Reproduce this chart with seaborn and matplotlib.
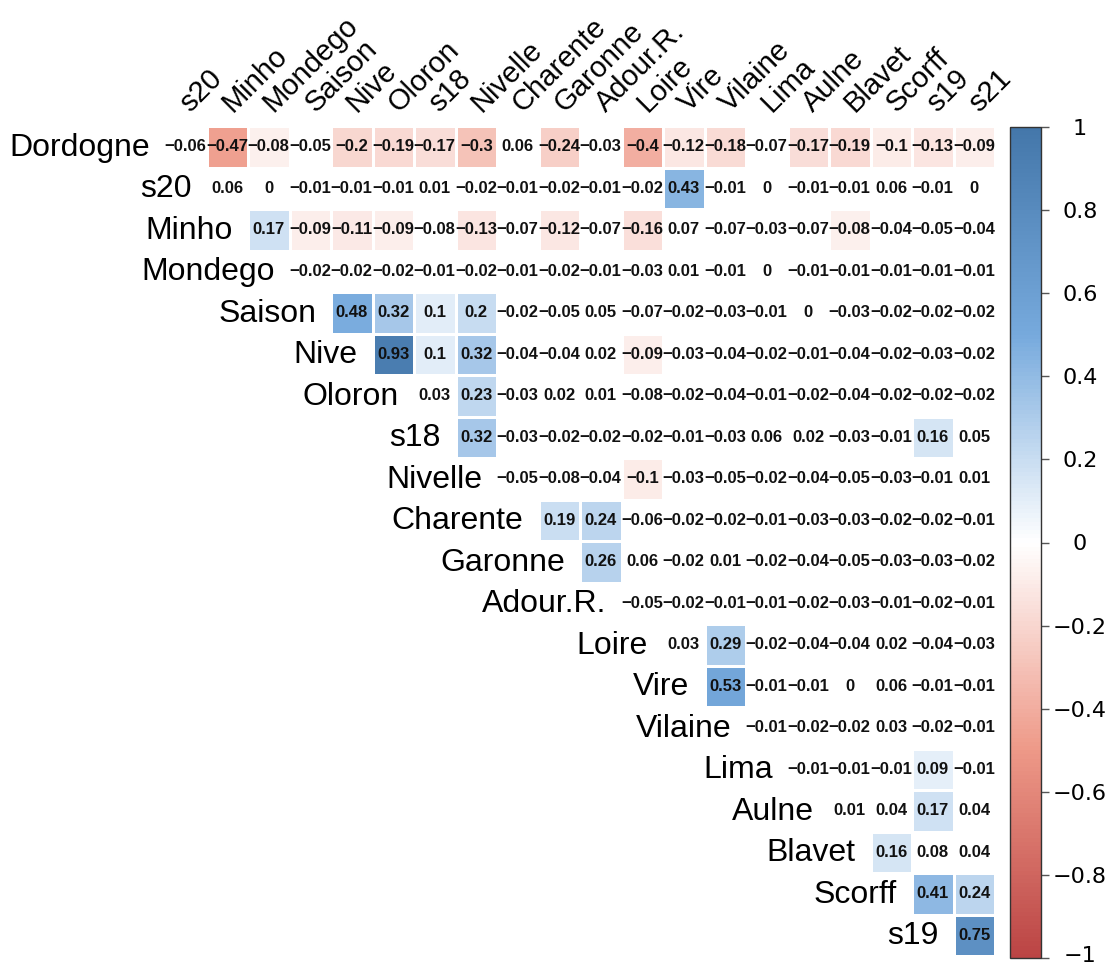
import numpy as np
import pandas as pd
import matplotlib
matplotlib.use("Agg")
import matplotlib.pyplot as plt
import matplotlib.transforms as mtransforms
import seaborn as sns
from matplotlib.colors import LinearSegmentedColormap

# ---------------- data ----------------
row_labels = ["Dordogne", "s20", "Minho", "Mondego", "Saison", "Nive", "Oloron", "s18",
              "Nivelle", "Charente", "Garonne", "Adour.R.", "Loire", "Vire", "Vilaine",
              "Lima", "Aulne", "Blavet", "Scorff", "s19"]
col_labels = ["s20", "Minho", "Mondego", "Saison", "Nive", "Oloron", "s18", "Nivelle",
              "Charente", "Garonne", "Adour.R.", "Loire", "Vire", "Vilaine", "Lima",
              "Aulne", "Blavet", "Scorff", "s19", "s21"]

# upper-triangle correlations, row i starts at column i
r_Dordogne = [-0.06, -0.47, -0.08, -0.05, -0.2, -0.19, -0.17, -0.3, 0.06, -0.24,
              -0.03, -0.4, -0.12, -0.18, -0.07, -0.17, -0.19, -0.1, -0.13, -0.09]
r_s20 = [0.06, 0, -0.01, -0.01, -0.01, 0.01, -0.02, -0.01, -0.02, -0.01,
         -0.02, 0.43, -0.01, 0, -0.01, -0.01, 0.06, -0.01, 0]
r_Minho = [0.17, -0.09, -0.11, -0.09, -0.08, -0.13, -0.07, -0.12, -0.07,
           -0.16, 0.07, -0.07, -0.03, -0.07, -0.08, -0.04, -0.05, -0.04]
r_Mondego = [-0.02, -0.02, -0.02, -0.01, -0.02, -0.01, -0.02, -0.01, -0.03,
             0.01, -0.01, 0, -0.01, -0.01, -0.01, -0.01, -0.01]
r_Saison = [0.48, 0.32, 0.1, 0.2, -0.02, -0.05, 0.05, -0.07, -0.02, -0.03,
            -0.01, 0, -0.03, -0.02, -0.02, -0.02]
r_Nive = [0.93, 0.1, 0.32, -0.04, -0.04, 0.02, -0.09, -0.03, -0.04, -0.02,
          -0.01, -0.04, -0.02, -0.03, -0.02]
r_Oloron = [0.03, 0.23, -0.03, 0.02, 0.01, -0.08, -0.02, -0.04, -0.01, -0.02,
            -0.04, -0.02, -0.02, -0.02]
r_s18 = [0.32, -0.03, -0.02, -0.02, -0.02, -0.01, -0.03, 0.06, 0.02, -0.03,
         -0.01, 0.16, 0.05]
r_Nivelle = [-0.05, -0.08, -0.04, -0.1, -0.03, -0.05, -0.02, -0.04, -0.05,
             -0.03, -0.01, 0.01]
r_Charente = [0.19, 0.24, -0.06, -0.02, -0.02, -0.01, -0.03, -0.03, -0.02, -0.02, -0.01]
r_Garonne = [0.26, 0.06, -0.02, 0.01, -0.02, -0.04, -0.05, -0.03, -0.03, -0.02]
r_Adour = [-0.05, -0.02, -0.01, -0.01, -0.02, -0.03, -0.01, -0.02, -0.01]
r_Loire = [0.03, 0.29, -0.02, -0.04, -0.04, 0.02, -0.04, -0.03]
r_Vire = [0.53, -0.01, -0.01, 0, 0.06, -0.01, -0.01]
r_Vilaine = [-0.01, -0.02, -0.02, 0.03, -0.02, -0.01]
r_Lima = [-0.01, -0.01, -0.01, 0.09, -0.01]
r_Aulne = [0.01, 0.04, 0.17, 0.04]
r_Blavet = [0.16, 0.08, 0.04]
r_Scorff = [0.41, 0.24]
r_s19 = [0.75]

rows = [r_Dordogne, r_s20, r_Minho, r_Mondego, r_Saison, r_Nive, r_Oloron, r_s18,
        r_Nivelle, r_Charente, r_Garonne, r_Adour, r_Loire, r_Vire, r_Vilaine,
        r_Lima, r_Aulne, r_Blavet, r_Scorff, r_s19]

# cells drawn with colour (significant), by row -> columns
shaded = {
    "Dordogne": ["Minho", "Mondego", "Nive", "Oloron", "s18", "Nivelle", "Garonne",
                 "Loire", "Vire", "Vilaine", "Aulne", "Blavet", "Scorff", "s19", "s21"],
    "s20": ["Vire"],
    "Minho": ["Mondego", "Saison", "Nive", "Oloron", "Nivelle", "Garonne", "Loire", "Blavet"],
    "Saison": ["Nive", "Oloron", "s18", "Nivelle"],
    "Nive": ["Oloron", "s18", "Nivelle", "Loire"],
    "Oloron": ["Nivelle"],
    "s18": ["Nivelle", "s19"],
    "Nivelle": ["Loire"],
    "Charente": ["Garonne", "Adour.R."],
    "Garonne": ["Adour.R."],
    "Loire": ["Vilaine"],
    "Vire": ["Vilaine"],
    "Lima": ["s19"],
    "Aulne": ["s19"],
    "Blavet": ["Scorff"],
    "Scorff": ["s19", "s21"],
    "s19": ["s21"],
}

# ---------------- build matrices ----------------
n = len(row_labels)
full = np.full((n, len(col_labels)), np.nan)
for i, vals in enumerate(rows):
    full[i, i:i + len(vals)] = vals
corr = pd.DataFrame(full, index=row_labels, columns=col_labels)
sig = pd.DataFrame(False, index=row_labels, columns=col_labels)
for r, cols in shaded.items():
    for c in cols:
        sig.loc[r, c] = True
colored = corr.where(sig)

cmap = LinearSegmentedColormap.from_list(
    "corr", ["#BB4444", "#EE9988", "#FFFFFF", "#77AADD", "#4477AA"], N=200)

plt.rcParams['font.family'] = ['Liberation Sans', 'DejaVu Sans']

fig = plt.figure(figsize=(11.11, 9.67), dpi=100)
W, H = 1111, 967
ax = fig.add_axes([165 / W, (H - 956) / H, 830 / W, 830 / H])
cax = fig.add_axes([1010 / W, (H - 958) / H, 31 / W, 831 / H])

sns.heatmap(colored, mask=colored.isna(), cmap=cmap, vmin=-1, vmax=1,
            linewidths=1.0, linecolor="white", xticklabels=False, yticklabels=False,
            cbar=True, cbar_ax=cax, ax=ax)
ax.set_xlim(0, n)
ax.set_ylim(n, 0)
ax.set_xlabel("")
ax.set_ylabel("")


def fmt(v):
    s = f"{v:.2f}".rstrip("0").rstrip(".")
    if s in ("-0", ""):
        s = "0"
    return s.replace("-", "\u2212")


for i in range(n):
    for j in range(n):
        v = corr.iat[i, j]
        if np.isnan(v):
            continue
        ax.text(j + 0.5, i + 0.5, fmt(v), ha="center", va="center",
                fontsize=12, fontweight="bold", color="#111111")

# row labels along the diagonal
for i, lab in enumerate(row_labels):
    ax.text(i - 0.36, i + 0.52, lab, ha="right", va="center", fontsize=23,
            color="black")

# column labels on top, rotated
for j, lab in enumerate(col_labels):
    ax.text(j + 0.62, -0.32, lab, ha="left", va="baseline", rotation=45,
            rotation_mode="anchor", fontsize=21, color="black")

# colourbar
cbar = ax.collections[0].colorbar
ticks = [-1, -0.8, -0.6, -0.4, -0.2, 0, 0.2, 0.4, 0.6, 0.8, 1]
cbar.set_ticks(ticks)
cbar.set_ticklabels([fmt(t) for t in ticks])
cbar.outline.set_edgecolor("#333333")
cbar.outline.set_linewidth(1.0)
cax.tick_params(length=6, width=1, color="#555555", labelsize=16, pad=22)
for t in cax.get_yticklabels():
    t.set_horizontalalignment("center")
    t.set_fontfamily("DejaVu Sans")
low = cax.get_yticklabels()[0]
low.set_transform(low.get_transform() +
                  mtransforms.ScaledTranslation(0, 4 / 100, fig.dpi_scale_trans))

fig.savefig("out.png", dpi=100)
